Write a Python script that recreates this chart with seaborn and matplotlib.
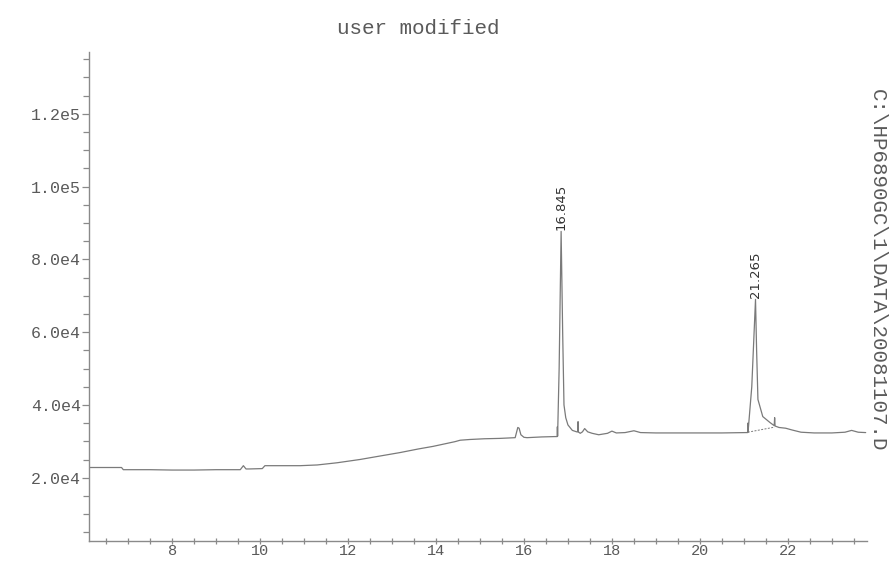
import matplotlib
matplotlib.use("Agg")
import matplotlib.pyplot as plt
import seaborn as sns
import pandas as pd
from matplotlib.ticker import MultipleLocator

# retention time (min) and abundance
time_min = [6.11, 6.85, 6.89, 7.5, 8.0, 8.5, 9.0, 9.55, 9.62, 9.68, 9.75, 10.05, 10.11,
            10.5, 10.91, 11.3, 11.75, 12.27, 12.7, 13.18, 13.6, 13.93, 14.2, 14.43,
            14.55, 14.77, 15.1, 15.45, 15.8, 15.86, 15.89, 15.93, 16.0, 16.07, 16.4,
            16.70, 16.755, 16.76, 16.765, 16.80, 16.845, 16.88, 16.91, 16.95, 17.0,
            17.1, 17.2, 17.225, 17.23, 17.235, 17.28, 17.33, 17.38, 17.45, 17.55,
            17.7, 17.9, 18.0, 18.1, 18.3, 18.5, 18.65, 19.0, 19.5, 20.0, 20.5,
            21.05, 21.085, 21.09, 21.095, 21.18, 21.265, 21.29, 21.32, 21.43, 21.59,
            21.69, 21.70, 21.71, 21.8, 21.95, 22.1, 22.3, 22.6, 23.0, 23.3, 23.45,
            23.6, 23.77]
abundance = [22800, 22800, 22200, 22200, 22100, 22100, 22200, 22200, 23300, 22400, 22400,
             22500, 23300, 23300, 23300, 23500, 24100, 25000, 25900, 26900, 27900,
             28600, 29300, 29900, 30300, 30500, 30700, 30800, 31000, 33800, 33600,
             31800, 31100, 31000, 31200, 31300, 31300, 34000, 31400, 50000, 87700,
             60000, 40000, 36500, 34500, 33000, 32600, 32600, 35400, 32600, 32200,
             32600, 33500, 32600, 32200, 31800, 32200, 32800, 32300, 32400, 32900,
             32400, 32300, 32300, 32300, 32300, 32400, 32400, 35000, 32500, 45000,
             69000, 55000, 41500, 36800, 35200, 34300, 36500, 34200, 33800, 33600,
             33100, 32500, 32300, 32300, 32500, 33000, 32500, 32400]

# integrator baseline under the second peak
base_time = [21.09, 21.70]
base_abund = [32500, 33900]

# peak labels
peak_times = [16.845, 21.265]
peak_heights = [87700, 69000]
peak_labels = ["16.845", "21.265"]

x_ticks = [8, 10, 12, 14, 16, 18, 20, 22]
y_ticks = [20000, 40000, 60000, 80000, 100000, 120000]
y_tick_labels = ["2.0e4", "4.0e4", "6.0e4", "8.0e4", "1.0e5", "1.2e5"]

title_text = "user modified"
file_text = "C:\\HP6890GC\\1\\DATA\\20081107.D"

sns.set_theme(style="white")
plt.rcParams['font.family'] = ['Liberation Mono', 'DejaVu Sans Mono']

text_col = "#5a5a5a"
line_col = "#7a7a7a"

fig = plt.figure(figsize=(8.91, 5.61), dpi=100)
ax = fig.add_axes([89 / 891, 20 / 561, 778 / 891, 489 / 561])

df = pd.DataFrame({"time": time_min, "abundance": abundance})
sns.lineplot(data=df, x="time", y="abundance", ax=ax, color=line_col,
             linewidth=0.9, estimator=None, sort=False)
ax.plot(base_time, base_abund, color=line_col, linewidth=0.7, linestyle=(0, (2, 1.5)))

for t, h, lab in zip(peak_times, peak_heights, peak_labels):
    ax.text(t, h + 400, lab, rotation=90, ha="center", va="bottom",
            fontsize=9.5, color="#333333", family=['Liberation Sans Narrow', 'DejaVu Sans'])

ax.set_xlim(6.11, 23.8)
ax.set_ylim(2600, 137000)
ax.set_xlabel("")
ax.set_ylabel("")

ax.set_xticks(x_ticks)
ax.xaxis.set_minor_locator(MultipleLocator(0.5))
ax.set_yticks(y_ticks)
ax.set_yticklabels(y_tick_labels)
ax.yaxis.set_minor_locator(MultipleLocator(5000))

for s in ["top", "right"]:
    ax.spines[s].set_visible(False)
for s in ["left", "bottom"]:
    ax.spines[s].set_color("#8a8a8a")
    ax.spines[s].set_linewidth(1.0)

ax.tick_params(axis="y", which="both", direction="out", length=5, width=0.9,
               color="#8a8a8a", labelsize=12, labelcolor=text_col, pad=1)
ax.tick_params(axis="x", which="both", direction="inout", length=5, width=0.9,
               color="#8a8a8a", labelsize=11, labelcolor=text_col, pad=0)
ax.tick_params(axis="both", which="minor", length=4)
ax.tick_params(left=True, bottom=True, which="both")

fig.text(418 / 891, 1 - 28 / 561, title_text, ha="center", va="center",
         fontsize=15, color=text_col)
fig.text(877 / 891, 1 - 270 / 561, file_text, rotation=270, ha="center", va="center",
         fontsize=15, color=text_col)

fig.savefig("out.png", dpi=100, facecolor="white")
